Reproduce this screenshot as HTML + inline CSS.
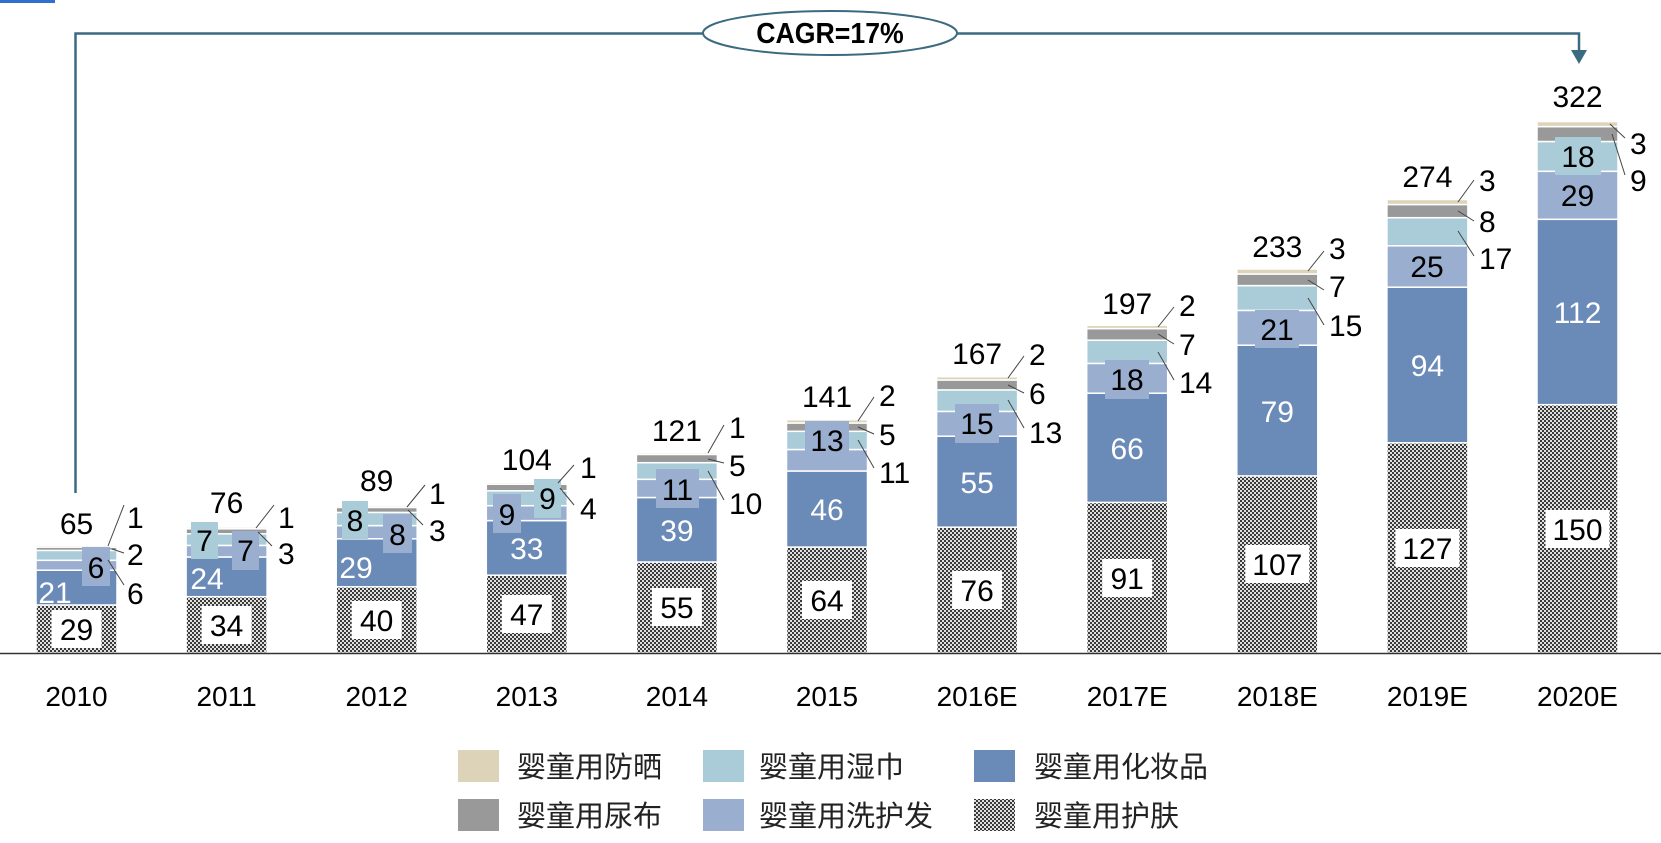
<!DOCTYPE html>
<html><head><meta charset="utf-8"><style>
html,body{margin:0;padding:0;background:#fff;}
svg{display:block;font-family:"Liberation Sans","Noto Sans CJK SC",sans-serif;}
</style></head><body>
<svg width="1661" height="843" viewBox="0 0 1661 843" xmlns="http://www.w3.org/2000/svg">
<defs>
<pattern id="hp" width="4" height="4" patternUnits="userSpaceOnUse">
<rect width="4" height="4" fill="#e0e0e0"/><rect width="2" height="2" fill="#3a3a3a"/><rect x="2" y="2" width="2" height="2" fill="#3a3a3a"/>
</pattern>
</defs>
<rect x="0" y="0" width="55" height="3" fill="#2f6fd0"/>
<polyline points="75.5,493 75.5,33.5 1579,33.5 1579,52" fill="none" stroke="#3b6b80" stroke-width="2.5"/>
<polygon points="1571,50 1587,50 1579,64" fill="#3b6b80"/>
<ellipse cx="830" cy="33" rx="127" ry="22" fill="#fff" stroke="#3b6b80" stroke-width="2"/>
<text x="830" y="43" text-anchor="middle" font-size="29" font-weight="bold" fill="#000" transform="translate(830 0) scale(0.92 1) translate(-830 0)">CAGR=17%</text>

<g stroke="#fff" stroke-width="1.5">
<rect x="36" y="605" width="81" height="48" fill="url(#hp)"/>
<rect x="36" y="570.2" width="81" height="34.8" fill="#6a8ab8"/>
<rect x="36" y="560.3" width="81" height="9.9" fill="#9aaecf"/>
<rect x="36" y="550.4" width="81" height="9.9" fill="#a9ccd8"/>
<rect x="36" y="547.1" width="81" height="3.3" fill="#999"/>
<rect x="36" y="545.4" width="81" height="1.7" fill="#ddd3b8"/>
<rect x="186.1" y="596.7" width="81" height="56.3" fill="url(#hp)"/>
<rect x="186.1" y="557" width="81" height="39.7" fill="#6a8ab8"/>
<rect x="186.1" y="545.4" width="81" height="11.6" fill="#9aaecf"/>
<rect x="186.1" y="533.8" width="81" height="11.6" fill="#a9ccd8"/>
<rect x="186.1" y="528.8" width="81" height="5" fill="#999"/>
<rect x="186.1" y="527.1" width="81" height="1.7" fill="#ddd3b8"/>
<rect x="336.2" y="586.8" width="81" height="66.2" fill="url(#hp)"/>
<rect x="336.2" y="538.8" width="81" height="48" fill="#6a8ab8"/>
<rect x="336.2" y="525.6" width="81" height="13.2" fill="#9aaecf"/>
<rect x="336.2" y="512.4" width="81" height="13.2" fill="#a9ccd8"/>
<rect x="336.2" y="507.4" width="81" height="5" fill="#999"/>
<rect x="336.2" y="505.7" width="81" height="1.7" fill="#ddd3b8"/>
<rect x="486.3" y="575.2" width="81" height="77.8" fill="url(#hp)"/>
<rect x="486.3" y="520.6" width="81" height="54.6" fill="#6a8ab8"/>
<rect x="486.3" y="505.7" width="81" height="14.9" fill="#9aaecf"/>
<rect x="486.3" y="490.8" width="81" height="14.9" fill="#a9ccd8"/>
<rect x="486.3" y="484.2" width="81" height="6.6" fill="#999"/>
<rect x="486.3" y="482.5" width="81" height="1.7" fill="#ddd3b8"/>
<rect x="636.4" y="562" width="81" height="91" fill="url(#hp)"/>
<rect x="636.4" y="497.5" width="81" height="64.5" fill="#6a8ab8"/>
<rect x="636.4" y="479.3" width="81" height="18.2" fill="#9aaecf"/>
<rect x="636.4" y="462.7" width="81" height="16.6" fill="#a9ccd8"/>
<rect x="636.4" y="454.4" width="81" height="8.3" fill="#999"/>
<rect x="636.4" y="452.7" width="81" height="1.7" fill="#ddd3b8"/>
<rect x="786.5" y="547.1" width="81" height="105.9" fill="url(#hp)"/>
<rect x="786.5" y="471" width="81" height="76.1" fill="#6a8ab8"/>
<rect x="786.5" y="449.5" width="81" height="21.5" fill="#9aaecf"/>
<rect x="786.5" y="431.3" width="81" height="18.2" fill="#a9ccd8"/>
<rect x="786.5" y="423" width="81" height="8.3" fill="#999"/>
<rect x="786.5" y="419.7" width="81" height="3.3" fill="#ddd3b8"/>
<rect x="936.6" y="527.2" width="81" height="125.8" fill="url(#hp)"/>
<rect x="936.6" y="436.2" width="81" height="91" fill="#6a8ab8"/>
<rect x="936.6" y="411.4" width="81" height="24.8" fill="#9aaecf"/>
<rect x="936.6" y="389.9" width="81" height="21.5" fill="#a9ccd8"/>
<rect x="936.6" y="380" width="81" height="9.9" fill="#999"/>
<rect x="936.6" y="376.7" width="81" height="3.3" fill="#ddd3b8"/>
<rect x="1086.7" y="502.4" width="81" height="150.6" fill="url(#hp)"/>
<rect x="1086.7" y="393.2" width="81" height="109.2" fill="#6a8ab8"/>
<rect x="1086.7" y="363.4" width="81" height="29.8" fill="#9aaecf"/>
<rect x="1086.7" y="340.2" width="81" height="23.2" fill="#a9ccd8"/>
<rect x="1086.7" y="328.6" width="81" height="11.6" fill="#999"/>
<rect x="1086.7" y="325.3" width="81" height="3.3" fill="#ddd3b8"/>
<rect x="1236.8" y="475.9" width="81" height="177.1" fill="url(#hp)"/>
<rect x="1236.8" y="345.2" width="81" height="130.7" fill="#6a8ab8"/>
<rect x="1236.8" y="310.4" width="81" height="34.8" fill="#9aaecf"/>
<rect x="1236.8" y="285.6" width="81" height="24.8" fill="#a9ccd8"/>
<rect x="1236.8" y="274" width="81" height="11.6" fill="#999"/>
<rect x="1236.8" y="269" width="81" height="5" fill="#ddd3b8"/>
<rect x="1386.9" y="442.8" width="81" height="210.2" fill="url(#hp)"/>
<rect x="1386.9" y="287.2" width="81" height="155.6" fill="#6a8ab8"/>
<rect x="1386.9" y="245.8" width="81" height="41.4" fill="#9aaecf"/>
<rect x="1386.9" y="217.7" width="81" height="28.1" fill="#a9ccd8"/>
<rect x="1386.9" y="204.5" width="81" height="13.2" fill="#999"/>
<rect x="1386.9" y="199.5" width="81" height="5" fill="#ddd3b8"/>
<rect x="1537" y="404.7" width="81" height="248.3" fill="url(#hp)"/>
<rect x="1537" y="219.3" width="81" height="185.4" fill="#6a8ab8"/>
<rect x="1537" y="171.3" width="81" height="48" fill="#9aaecf"/>
<rect x="1537" y="141.5" width="81" height="29.8" fill="#a9ccd8"/>
<rect x="1537" y="126.6" width="81" height="14.9" fill="#999"/>
<rect x="1537" y="121.6" width="81" height="5" fill="#ddd3b8"/>
</g>

<line x1="0" y1="653.5" x2="1661" y2="653.5" stroke="#333" stroke-width="1.5"/>

<g fill="#fff">
<rect x="51.5" y="610" width="50" height="38"/>
<rect x="201.6" y="606" width="50" height="38"/>
<rect x="351.7" y="601" width="50" height="38"/>
<rect x="501.8" y="595" width="50" height="38"/>
<rect x="651.9" y="588" width="50" height="38"/>
<rect x="802" y="581" width="50" height="38"/>
<rect x="952.1" y="571" width="50" height="38"/>
<rect x="1102.2" y="559" width="50" height="38"/>
<rect x="1245.3" y="545" width="64" height="38"/>
<rect x="1395.4" y="529" width="64" height="38"/>
<rect x="1545.5" y="510" width="64" height="38"/>
</g>
<g>
<rect x="82" y="547" width="28" height="39" fill="#9aaecf"/>
<rect x="191" y="522" width="27" height="37" fill="#a9ccd8"/>
<rect x="232" y="531" width="27" height="39" fill="#9aaecf"/>
<rect x="342" y="501" width="26" height="38" fill="#a9ccd8"/>
<rect x="383" y="514" width="29" height="39" fill="#9aaecf"/>
<rect x="493" y="494" width="28" height="39" fill="#9aaecf"/>
<rect x="534" y="479" width="27" height="39" fill="#a9ccd8"/>
<rect x="656" y="469" width="43" height="39" fill="#9aaecf"/>
<rect x="805" y="421" width="44" height="39" fill="#9aaecf"/>
<rect x="955" y="404" width="44" height="39" fill="#9aaecf"/>
<rect x="1105" y="360" width="44" height="39" fill="#9aaecf"/>
<rect x="1255" y="310" width="44" height="38" fill="#9aaecf"/>
<rect x="1405" y="247" width="44" height="38" fill="#9aaecf"/>
<rect x="1555" y="137" width="46" height="38" fill="#a9ccd8"/>
</g>

<g stroke="#444" stroke-width="1" fill="none">
<line x1="108" y1="546" x2="124" y2="505"/><line x1="112" y1="549" x2="124" y2="553"/><line x1="108" y1="560" x2="124" y2="585"/>
<line x1="256" y1="528" x2="274" y2="505"/><line x1="258" y1="532" x2="272" y2="546"/>
<line x1="407" y1="507" x2="425" y2="485"/><line x1="408" y1="510" x2="423" y2="525"/>
<line x1="558" y1="483" x2="574" y2="465"/><line x1="560" y1="488" x2="574" y2="505"/>
<line x1="708" y1="453" x2="724" y2="425"/><line x1="708" y1="459" x2="724" y2="463"/><line x1="708" y1="471" x2="724" y2="500"/>
<line x1="858" y1="421" x2="874" y2="397"/><line x1="858" y1="427" x2="874" y2="434"/><line x1="858" y1="440" x2="874" y2="468"/>
<line x1="1008" y1="378" x2="1024" y2="356"/><line x1="1008" y1="385" x2="1024" y2="393"/><line x1="1008" y1="400" x2="1024" y2="428"/>
<line x1="1158" y1="327" x2="1174" y2="307"/><line x1="1158" y1="334" x2="1174" y2="344"/><line x1="1158" y1="352" x2="1174" y2="380"/>
<line x1="1308" y1="271" x2="1324" y2="251"/><line x1="1308" y1="280" x2="1324" y2="290"/><line x1="1308" y1="298" x2="1324" y2="325"/>
<line x1="1458" y1="202" x2="1474" y2="180"/><line x1="1458" y1="211" x2="1474" y2="221"/><line x1="1458" y1="231" x2="1474" y2="256"/>
<line x1="1610" y1="124" x2="1625" y2="138"/><line x1="1612" y1="134" x2="1625" y2="175"/>
</g>

<g font-size="30" fill="#000" text-anchor="middle">
<text x="76.5" y="534">65</text>
<text x="226.6" y="513">76</text>
<text x="376.7" y="491">89</text>
<text x="526.8" y="470">104</text>
<text x="676.9" y="441">121</text>
<text x="827" y="407">141</text>
<text x="977.1" y="364">167</text>
<text x="1127.2" y="314">197</text>
<text x="1277.3" y="257">233</text>
<text x="1427.4" y="187">274</text>
<text x="1577.5" y="107">322</text>
<text x="76.5" y="640">29</text>
<text x="226.6" y="636">34</text>
<text x="376.7" y="631">40</text>
<text x="526.8" y="625">47</text>
<text x="676.9" y="618">55</text>
<text x="827" y="611">64</text>
<text x="977.1" y="601">76</text>
<text x="1127.2" y="589">91</text>
<text x="1277.3" y="575">107</text>
<text x="1427.4" y="559">127</text>
<text x="1577.5" y="540">150</text>
<text x="96" y="578">6</text>
<text x="204.5" y="551">7</text>
<text x="245.5" y="561">7</text>
<text x="355" y="531">8</text>
<text x="397.5" y="545">8</text>
<text x="507" y="525">9</text>
<text x="547.5" y="509">9</text>
<text x="677.5" y="500">11</text>
<text x="827" y="451">13</text>
<text x="977" y="434">15</text>
<text x="1127" y="390">18</text>
<text x="1277" y="340">21</text>
<text x="1427" y="277">25</text>
<text x="1578" y="167">18</text>
<text x="1577.5" y="206">29</text>
</g>
<g font-size="30" fill="#fff" text-anchor="middle">
<text x="55" y="603">21</text>
<text x="207" y="589">24</text>
<text x="356" y="578">29</text>
<text x="526.8" y="559">33</text>
<text x="676.9" y="541">39</text>
<text x="827" y="520">46</text>
<text x="977.1" y="493">55</text>
<text x="1127.2" y="459">66</text>
<text x="1277.3" y="422">79</text>
<text x="1427.4" y="376">94</text>
<text x="1577.5" y="323">112</text>
</g>
<g font-size="30" fill="#000" text-anchor="start">
<text x="127" y="528">1</text><text x="127" y="565">2</text><text x="127" y="604">6</text>
<text x="278" y="528">1</text><text x="278" y="564">3</text>
<text x="429" y="504">1</text><text x="429" y="541">3</text>
<text x="580" y="478">1</text><text x="580" y="519">4</text>
<text x="729" y="438">1</text><text x="729" y="476">5</text><text x="729" y="514">10</text>
<text x="879" y="406">2</text><text x="879" y="445">5</text><text x="879" y="483">11</text>
<text x="1029" y="365">2</text><text x="1029" y="404">6</text><text x="1029" y="443">13</text>
<text x="1179" y="316">2</text><text x="1179" y="355">7</text><text x="1179" y="393">14</text>
<text x="1329" y="259">3</text><text x="1329" y="297">7</text><text x="1329" y="336">15</text>
<text x="1479" y="191">3</text><text x="1479" y="232">8</text><text x="1479" y="269">17</text>
<text x="1630" y="154">3</text><text x="1630" y="191">9</text>
</g>
<g font-size="28" fill="#000" text-anchor="middle">
<text x="76.5" y="706">2010</text>
<text x="226.6" y="706">2011</text>
<text x="376.7" y="706">2012</text>
<text x="526.8" y="706">2013</text>
<text x="676.9" y="706">2014</text>
<text x="827" y="706">2015</text>
<text x="977.1" y="706">2016E</text>
<text x="1127.2" y="706">2017E</text>
<text x="1277.3" y="706">2018E</text>
<text x="1427.4" y="706">2019E</text>
<text x="1577.5" y="706">2020E</text>
</g>
<rect x="458" y="750" width="41" height="32" fill="#ddd3b8"/>
<rect x="703" y="750" width="41" height="32" fill="#a9ccd8"/>
<rect x="974" y="750" width="41" height="32" fill="#6a8ab8"/>
<rect x="458" y="799" width="41" height="32" fill="#999"/>
<rect x="703" y="799" width="41" height="32" fill="#9aaecf"/>
<rect x="974" y="799" width="41" height="32" fill="url(#hp)"/>
<g font-size="29" fill="#222">
<text x="517" y="777">婴童用防晒</text>
<text x="759" y="777">婴童用湿巾</text>
<text x="1034" y="777">婴童用化妆品</text>
<text x="517" y="826">婴童用尿布</text>
<text x="759" y="826">婴童用洗护发</text>
<text x="1034" y="826">婴童用护肤</text>
</g>
</svg>
</body></html>
